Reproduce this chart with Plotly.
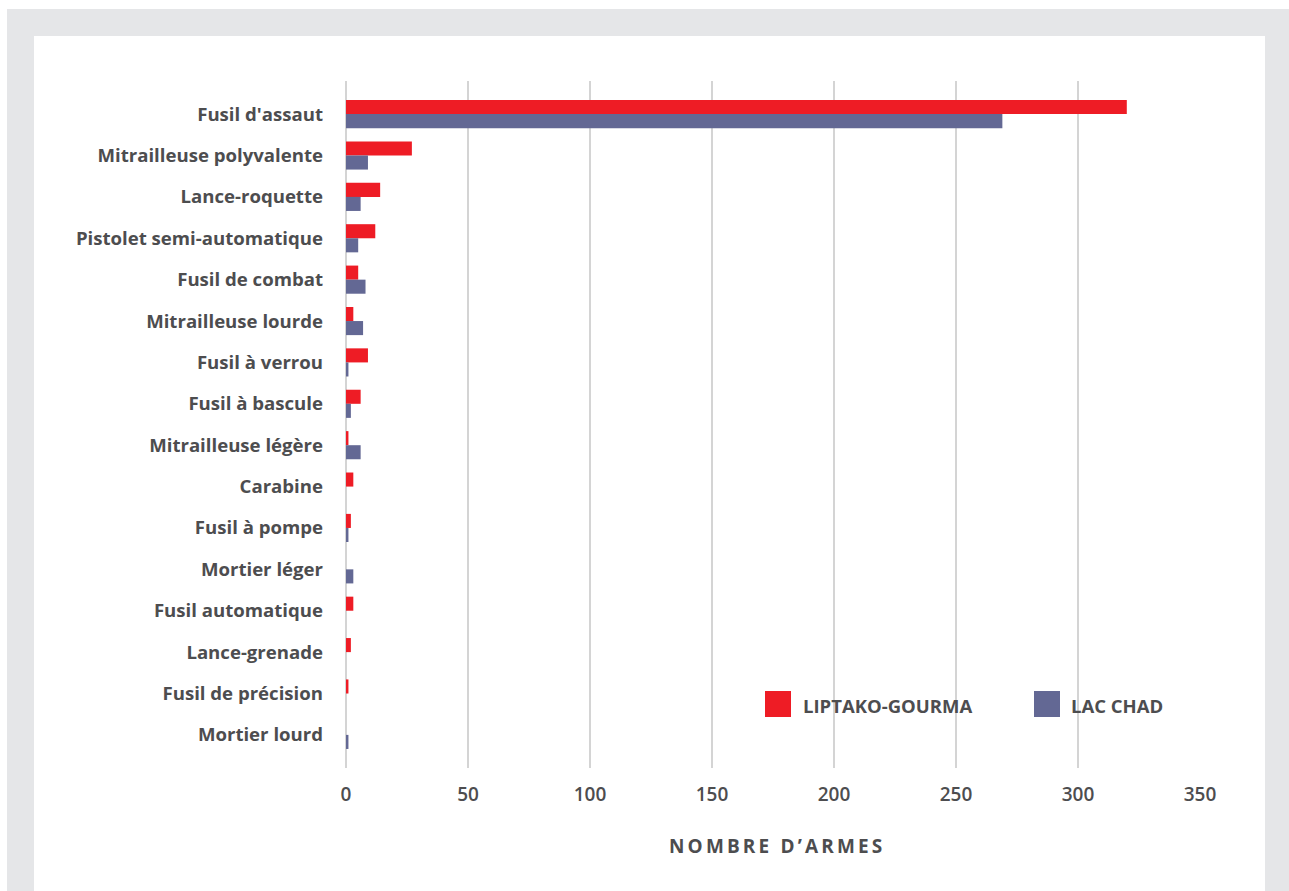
import plotly.graph_objects as go

categories = [
    "Fusil d'assaut", "Mitrailleuse polyvalente", "Lance-roquette",
    "Pistolet semi-automatique", "Fusil de combat", "Mitrailleuse lourde",
    "Fusil à verrou", "Fusil à bascule", "Mitrailleuse légère", "Carabine",
    "Fusil à pompe", "Mortier léger", "Fusil automatique", "Lance-grenade",
    "Fusil de précision", "Mortier lourd",
]
liptako = [320, 27, 14, 12, 5, 3, 9, 6, 1, 3, 2, 0, 3, 2, 1, 0]
lac_chad = [269, 9, 6, 5, 8, 7, 1, 2, 6, 0, 1, 3, 0, 0, 0, 1]
x_ticks = [0, 50, 100, 150, 200, 250, 300, 350]
series_names = ["LIPTAKO-GOURMA", "LAC CHAD"]
series_colors = ["#ee1c25", "#636894"]

W, H = 1289, 891
L, R, T, B = 346, 1200, 81, 768
TXT = "#4d4d4f"
FONT = "Open Sans"

def px(x):
    return (x - L) / (R - L)

def py(y):
    return (B - y) / (B - T)

fig = go.Figure()
for name, vals, col in zip(series_names, [liptako, lac_chad], series_colors):
    fig.add_trace(go.Bar(
        y=categories, x=vals, orientation="h", name=name,
        marker=dict(color=col, line=dict(width=0)), showlegend=False,
    ))

shapes = [
    dict(type="rect", xref="paper", yref="paper", x0=px(7), x1=px(1300),
         y0=py(9), y1=py(900), fillcolor="#e5e6e8", line=dict(width=0), layer="below"),
    dict(type="rect", xref="paper", yref="paper", x0=px(34), x1=px(1265),
         y0=py(36), y1=py(900), fillcolor="#ffffff", line=dict(width=0), layer="below"),
]
annotations = []
# manual legend
leg = [(765, 801, series_names[0], series_colors[0]), (1034, 1069, series_names[1], series_colors[1])]
for sx, tx, name, col in leg:
    shapes.append(dict(type="rect", xref="paper", yref="paper", x0=px(sx), x1=px(sx + 26),
                       y0=py(691), y1=py(717), fillcolor=col, line=dict(width=0)))
    annotations.append(dict(text=name, xref="paper", yref="paper", x=px(tx), y=py(705),
                            xanchor="left", yanchor="middle", showarrow=False,
                            font=dict(family=FONT, size=18.5, color=TXT, weight=700)))
title_txt = "\u2009".join(list("NOMBRE D’ARMES"))
annotations.append(dict(text=title_txt, xref="paper", yref="paper", x=px(775), y=py(846),
                        xanchor="center", yanchor="middle", showarrow=False,
                        font=dict(family=FONT, size=19, color=TXT, weight=700)))

fig.update_layout(
    width=W, height=H,
    margin=dict(l=L, r=W - R, t=T, b=H - B, pad=0),
    paper_bgcolor="#ffffff", plot_bgcolor="rgba(0,0,0,0)",
    barmode="group", bargap=0.32, bargroupgap=0,
    font=dict(family=FONT, color=TXT),
    shapes=shapes, annotations=annotations,
    xaxis=dict(range=[0, 350], tickvals=x_ticks, ticktext=[str(v) for v in x_ticks],
               showgrid=True, gridcolor="#d4d4d4", gridwidth=2,
               zeroline=True, zerolinecolor="#d4d4d4", zerolinewidth=2,
               showline=False, ticks="", ticklabelstandoff=13,
               tickfont=dict(family=FONT, size=19, color=TXT, weight=600)),
    yaxis=dict(categoryorder="array", categoryarray=categories,
               range=[15.8, -0.8], showgrid=False, zeroline=False, showline=False,
               ticks="", ticklabelstandoff=22,
               tickfont=dict(family=FONT, size=18.6, color=TXT, weight=700)),
)
fig.write_html("out.html")
